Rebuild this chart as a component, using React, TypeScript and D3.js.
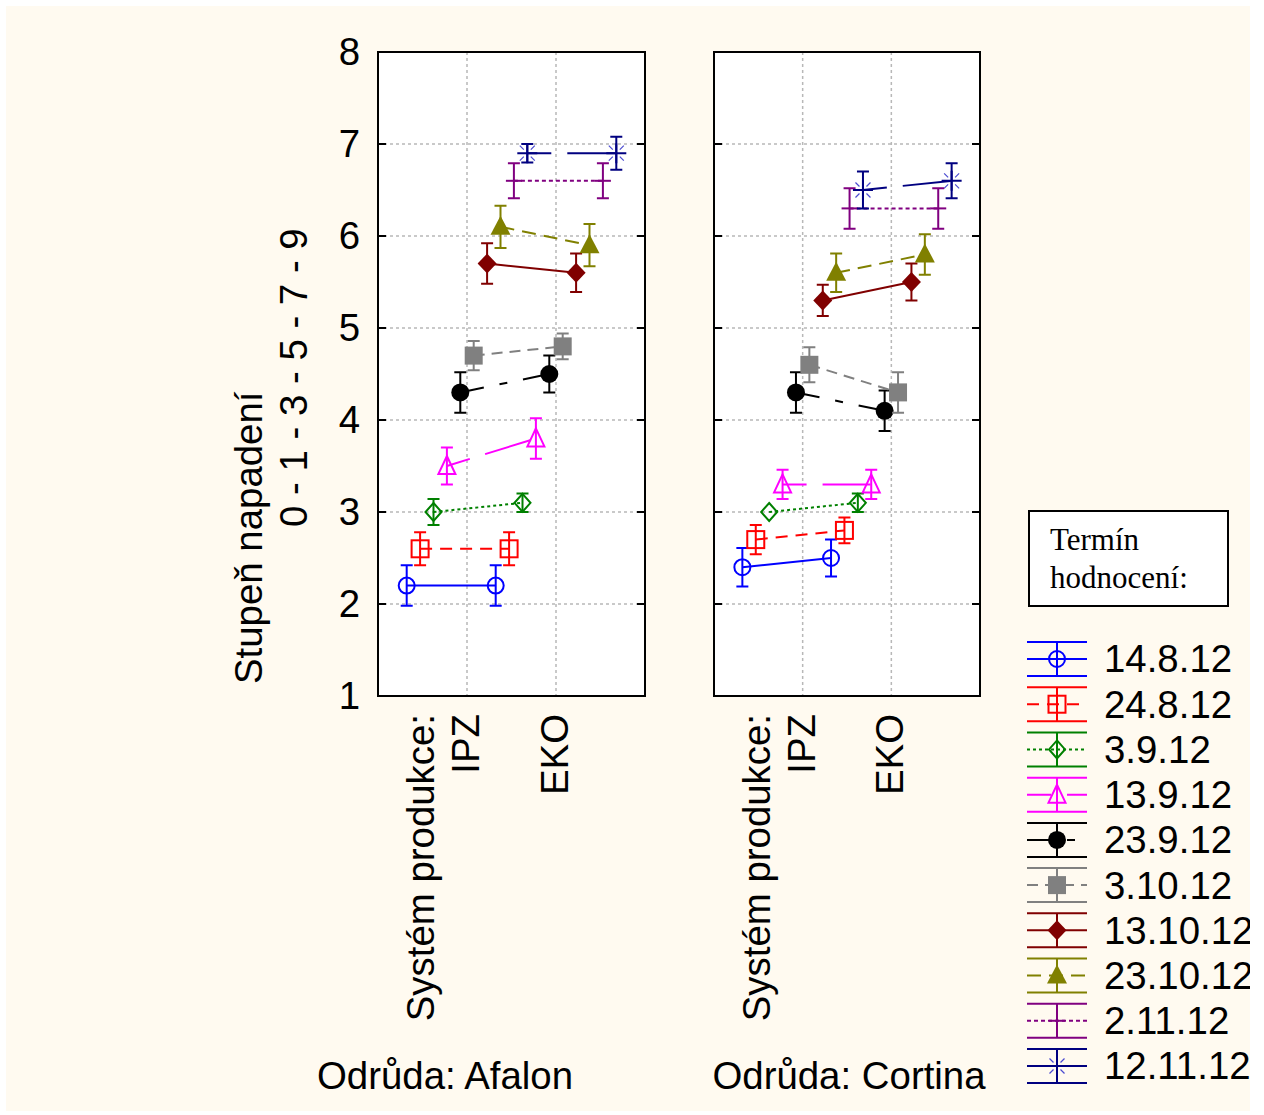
import React from 'react';
import * as d3 from 'd3';

const systems = ['IPZ', 'EKO'];
const dates = ['14.8.12', '24.8.12', '3.9.12', '13.9.12', '23.9.12', '3.10.12', '13.10.12', '23.10.12', '2.11.12', '12.11.12'];
const yTicks = [1, 2, 3, 4, 5, 6, 7, 8];

// means [IPZ, EKO] for each date
const afalonMeans = [[2.2, 2.2], [2.6, 2.6], [3.0, 3.1], [3.5, 3.8], [4.3, 4.5], [4.7, 4.8], [5.7, 5.6], [6.1, 5.9], [6.6, 6.6], [6.9, 6.9]];
const afalonErr = [[0.22, 0.22], [0.18, 0.18], [0.14, 0.1], [0.2, 0.22], [0.22, 0.2], [0.16, 0.14], [0.22, 0.21], [0.23, 0.23], [0.19, 0.19], [0.1, 0.18]];
const cortinaMeans = [[2.4, 2.5], [2.7, 2.8], [3.0, 3.1], [3.3, 3.3], [4.3, 4.1], [4.6, 4.3], [5.3, 5.5], [5.6, 5.8], [6.3, 6.3], [6.5, 6.6]];
const cortinaErr = [[0.21, 0.2], [0.16, 0.14], [0, 0.1], [0.16, 0.16], [0.22, 0.22], [0.19, 0.22], [0.17, 0.2], [0.21, 0.22], [0.22, 0.22], [0.2, 0.19]];

const colors = ['#0000ff', '#ff0000', '#008000', '#ff00ff', '#000000', '#808080', '#800000', '#808000', '#800080', '#000080'];
const dashes = [null, '12 8', '3 3', '24 16 48 16', '24 16 8 16', '11 7', null, '14 8', '4 3', '24 16 48 16'];
const markers = ['circleOpen', 'squareOpen', 'diamondOpen', 'triangleOpen', 'circle', 'square', 'diamond', 'triangle', 'dash', 'asterisk'];

const FONT = '"Liberation Sans", Arial, sans-serif';
const SERIF = '"Liberation Serif", "Times New Roman", serif';
const BG = '#fffaf0';
const FS = 38.4;

const y = d3.scaleLinear().domain([1, 8]).range([696, 52]);
const offset = d3.scalePoint().domain(dates).range([-60.3, 60.3]);

function Marker({ kind, x, y, color }: { kind: string; x: number; y: number; color: string }) {
  switch (kind) {
    case 'circleOpen':
      return <circle cx={x} cy={y} r={8} fill="none" stroke={color} strokeWidth={2} />;
    case 'circle':
      return <circle cx={x} cy={y} r={9} fill={color} />;
    case 'squareOpen':
      return <rect x={x - 8.5} y={y - 8.5} width={17} height={17} fill="none" stroke={color} strokeWidth={2} />;
    case 'square':
      return <rect x={x - 9} y={y - 9} width={18} height={18} fill={color} />;
    case 'diamondOpen':
      return <path d={`M${x},${y - 9}L${x + 8},${y}L${x},${y + 9}L${x - 8},${y}Z`} fill="none" stroke={color} strokeWidth={2} />;
    case 'diamond':
      return <path d={`M${x},${y - 10}L${x + 9.5},${y}L${x},${y + 10}L${x - 9.5},${y}Z`} fill={color} />;
    case 'triangleOpen':
      return <path d={`M${x},${y - 10}L${x + 8.5},${y + 8}L${x - 8.5},${y + 8}Z`} fill="none" stroke={color} strokeWidth={2} />;
    case 'triangle':
      return <path d={`M${x},${y - 11}L${x + 10},${y + 8}L${x - 10},${y + 8}Z`} fill={color} />;
    case 'dash':
      return <path d={`M${x - 8},${y}H${x + 8}`} stroke={color} strokeWidth={2} />;
    case 'asterisk': {
      const d = [[1, 1], [1, -1], [-1, 1], [-1, -1]]
        .map(([a, b]) => `M${x + a * 3.5},${y + b * 3.5}L${x + a * 7.5},${y + b * 7.5}`)
        .join('');
      return (
        <g>
          <path d={`M${x - 10},${y}H${x + 10}M${x},${y - 10}V${y + 10}`} stroke={color} strokeWidth={2} />
          <path d={d} stroke="#4a4ad0" strokeWidth={1.2} />
        </g>
      );
    }
    default:
      return null;
  }
}

function Panel({ x0, x1, means, errs, showLabels }: { x0: number; x1: number; means: number[][]; errs: number[][]; showLabels: boolean }) {
  const x = d3.scalePoint().domain(systems).range([x0, x1]).padding(1);
  const line = d3.line<[number, number]>().x(d => d[0]).y(d => d[1]);
  return (
    <g>
      <rect x={x0} y={52} width={x1 - x0} height={644} fill="#ffffff" />
      {yTicks.slice(1, -1).map(t => (
        <line key={t} x1={x0} x2={x1} y1={y(t)} y2={y(t)} stroke="#b8b8b8" strokeWidth={1.5} strokeDasharray="3 3" />
      ))}
      {systems.map(s => (
        <line key={s} x1={x(s)} x2={x(s)} y1={52} y2={696} stroke="#b8b8b8" strokeWidth={1.5} strokeDasharray="3 3" />
      ))}
      {dates.map((dt, i) => {
        const pts: [number, number][] = systems.map((s, j) => [(x(s) as number) + (offset(dt) as number), y(means[i][j])]);
        return (
          <g key={dt}>
            <path d={line(pts) as string} fill="none" stroke={colors[i]} strokeWidth={2} strokeDasharray={dashes[i] || undefined} />
            {pts.map((p, j) => {
              const e = errs[i][j];
              if (!e) return null;
              const yt = y(means[i][j] + e);
              const yb = y(means[i][j] - e);
              return (
                <path key={j} d={`M${p[0]},${yt}V${yb}M${p[0] - 6},${yt}H${p[0] + 6}M${p[0] - 6},${yb}H${p[0] + 6}`} stroke={colors[i]} strokeWidth={2} fill="none" />
              );
            })}
            {pts.map((p, j) => (
              <Marker key={'m' + j} kind={markers[i]} x={p[0]} y={p[1]} color={colors[i]} />
            ))}
          </g>
        );
      })}
      <rect x={x0} y={52} width={x1 - x0} height={644} fill="none" stroke="#000" strokeWidth={2} />
      {yTicks.map(t => (
        <path key={t} d={`M${x0},${y(t)}h8M${x1},${y(t)}h-8`} stroke="#000" strokeWidth={2} />
      ))}
      {showLabels &&
        yTicks.map(t => (
          <text key={t} x={360} y={y(t)} dy="0.35em" textAnchor="end" fontSize={FS} fontFamily={FONT}>
            {t}
          </text>
        ))}
      <text transform={`translate(${(x('IPZ') as number) - 33},714) rotate(-90)`} textAnchor="end" fontSize={FS} fontFamily={FONT}>
        Systém produkce:
      </text>
      {systems.map(s => (
        <text key={s} transform={`translate(${(x(s) as number) + 12},714) rotate(-90)`} textAnchor="end" fontSize={FS} fontFamily={FONT}>
          {s}
        </text>
      ))}
    </g>
  );
}

function LegendItem({ i, cy }: { i: number; cy: number }) {
  const c = colors[i];
  return (
    <g>
      <path d={`M1027,${cy - 17}H1087M1027,${cy + 17}H1087M1057,${cy - 17}V${cy + 17}`} stroke={c} strokeWidth={2} fill="none" />
      <path d={`M1027,${cy}H1087`} stroke={c} strokeWidth={2} strokeDasharray={dashes[i] || undefined} />
      <Marker kind={markers[i]} x={1057} y={cy} color={c} />
      <text x={1104} y={cy} dy="0.35em" fontSize={FS} fontFamily={FONT}>
        {dates[i]}
      </text>
    </g>
  );
}

export default function App() {
  const legendY = d3.scalePoint().domain(dates).range([659, 1066]);
  return (
    <svg width={1264} height={1115} style={{ position: 'absolute', left: 0, top: 0 }}>
      <defs>
        <clipPath id="bgclip">
          <rect x={6} y={6} width={1244} height={1105} />
        </clipPath>
      </defs>
      <rect x={0} y={0} width={1264} height={1115} fill="#ffffff" />
      <g clipPath="url(#bgclip)">
        <rect x={6} y={6} width={1244} height={1105} fill={BG} />
        <Panel x0={378} x1={645} means={afalonMeans} errs={afalonErr} showLabels={true} />
        <Panel x0={714} x1={980} means={cortinaMeans} errs={cortinaErr} showLabels={false} />
        <text transform="translate(262,684) rotate(-90)" fontSize={FS} fontFamily={FONT}>
          Stupeň napadení
        </text>
        <text transform="translate(307,527) rotate(-90)" fontSize={FS} fontFamily={FONT}>
          0 - 1 - 3 - 5 - 7 - 9
        </text>
        <text x={445} y={1089} textAnchor="middle" fontSize={FS} fontFamily={FONT}>
          Odrůda: Afalon
        </text>
        <text x={849} y={1089} textAnchor="middle" fontSize={FS} fontFamily={FONT}>
          Odrůda: Cortina
        </text>
        <rect x={1029} y={511} width={199} height={95} fill="#ffffff" stroke="#000" strokeWidth={2} />
        <text x={1050} y={550} fontSize={31} fontFamily={SERIF}>
          Termín
        </text>
        <text x={1050} y={588} fontSize={31} fontFamily={SERIF}>
          hodnocení:
        </text>
        {dates.map((d, i) => (
          <LegendItem key={d} i={i} cy={legendY(d) as number} />
        ))}
      </g>
    </svg>
  );
}
